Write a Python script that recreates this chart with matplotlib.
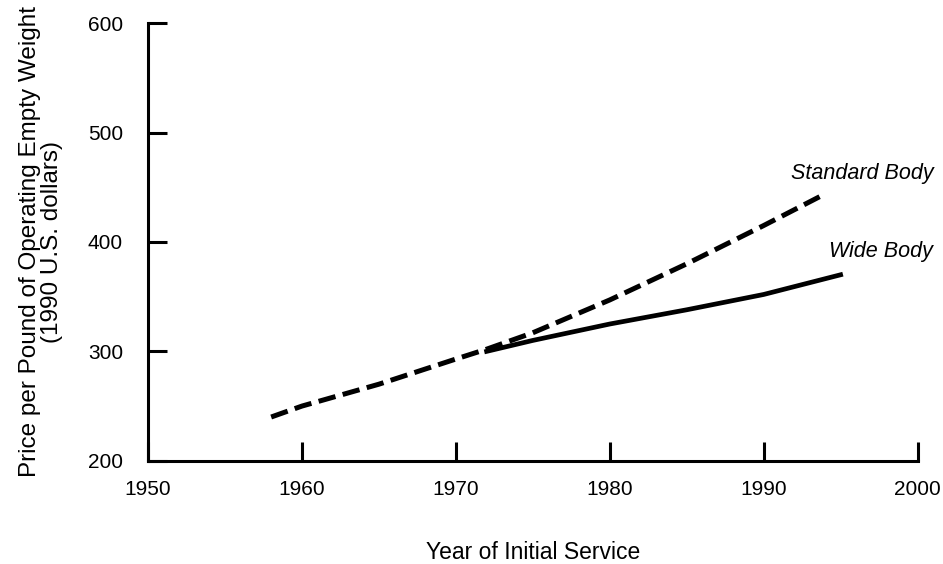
import matplotlib.pyplot as plt

plt.rcParams['font.family'] = ['Liberation Sans', 'DejaVu Sans']

# Standard Body (dashed)
std_years = [1958, 1960, 1965, 1970, 1972, 1975, 1980, 1985, 1990, 1994]
std_price = [240, 250, 270, 293, 302, 317, 347, 380, 415, 444]

# Wide Body (solid)
wide_years = [1972, 1975, 1980, 1985, 1990, 1995]
wide_price = [300, 310, 325, 338, 352, 370]

x_ticks = [1950, 1960, 1970, 1980, 1990, 2000]
y_ticks = [200, 300, 400, 500, 600]

fig = plt.figure(figsize=(9.43, 5.64), dpi=100)
ax = fig.add_axes([0.157, 0.183, 0.816, 0.776])

ax.plot(std_years, std_price, color='black', lw=3.6, dashes=(3.5, 1.5))
ax.plot(wide_years, wide_price, color='black', lw=3.4)

ax.text(1996.4, 463, 'Standard Body', style='italic', fontsize=15.5,
        ha='center', va='center')
ax.text(1997.6, 391, 'Wide Body', style='italic', fontsize=15.5,
        ha='center', va='center')

ax.set_xlim(1950, 2000)
ax.set_ylim(200, 600)
ax.set_xticks(x_ticks)
ax.set_yticks(y_ticks)
ax.tick_params(direction='in', length=14, width=2.2, labelsize=15)
ax.tick_params(axis='x', pad=14)
ax.tick_params(axis='y', pad=18)

for s in ['top', 'right']:
    ax.spines[s].set_visible(False)
for s in ['left', 'bottom']:
    ax.spines[s].set_linewidth(2.2)

ax.set_xlabel('Year of Initial Service', fontsize=16.5, labelpad=30)
ax.set_ylabel('Price per Pound of Operating Empty Weight\n(1990 U.S. dollars)',
              fontsize=17.5, labelpad=18, linespacing=1.0)

plt.savefig('out.png', dpi=100)
